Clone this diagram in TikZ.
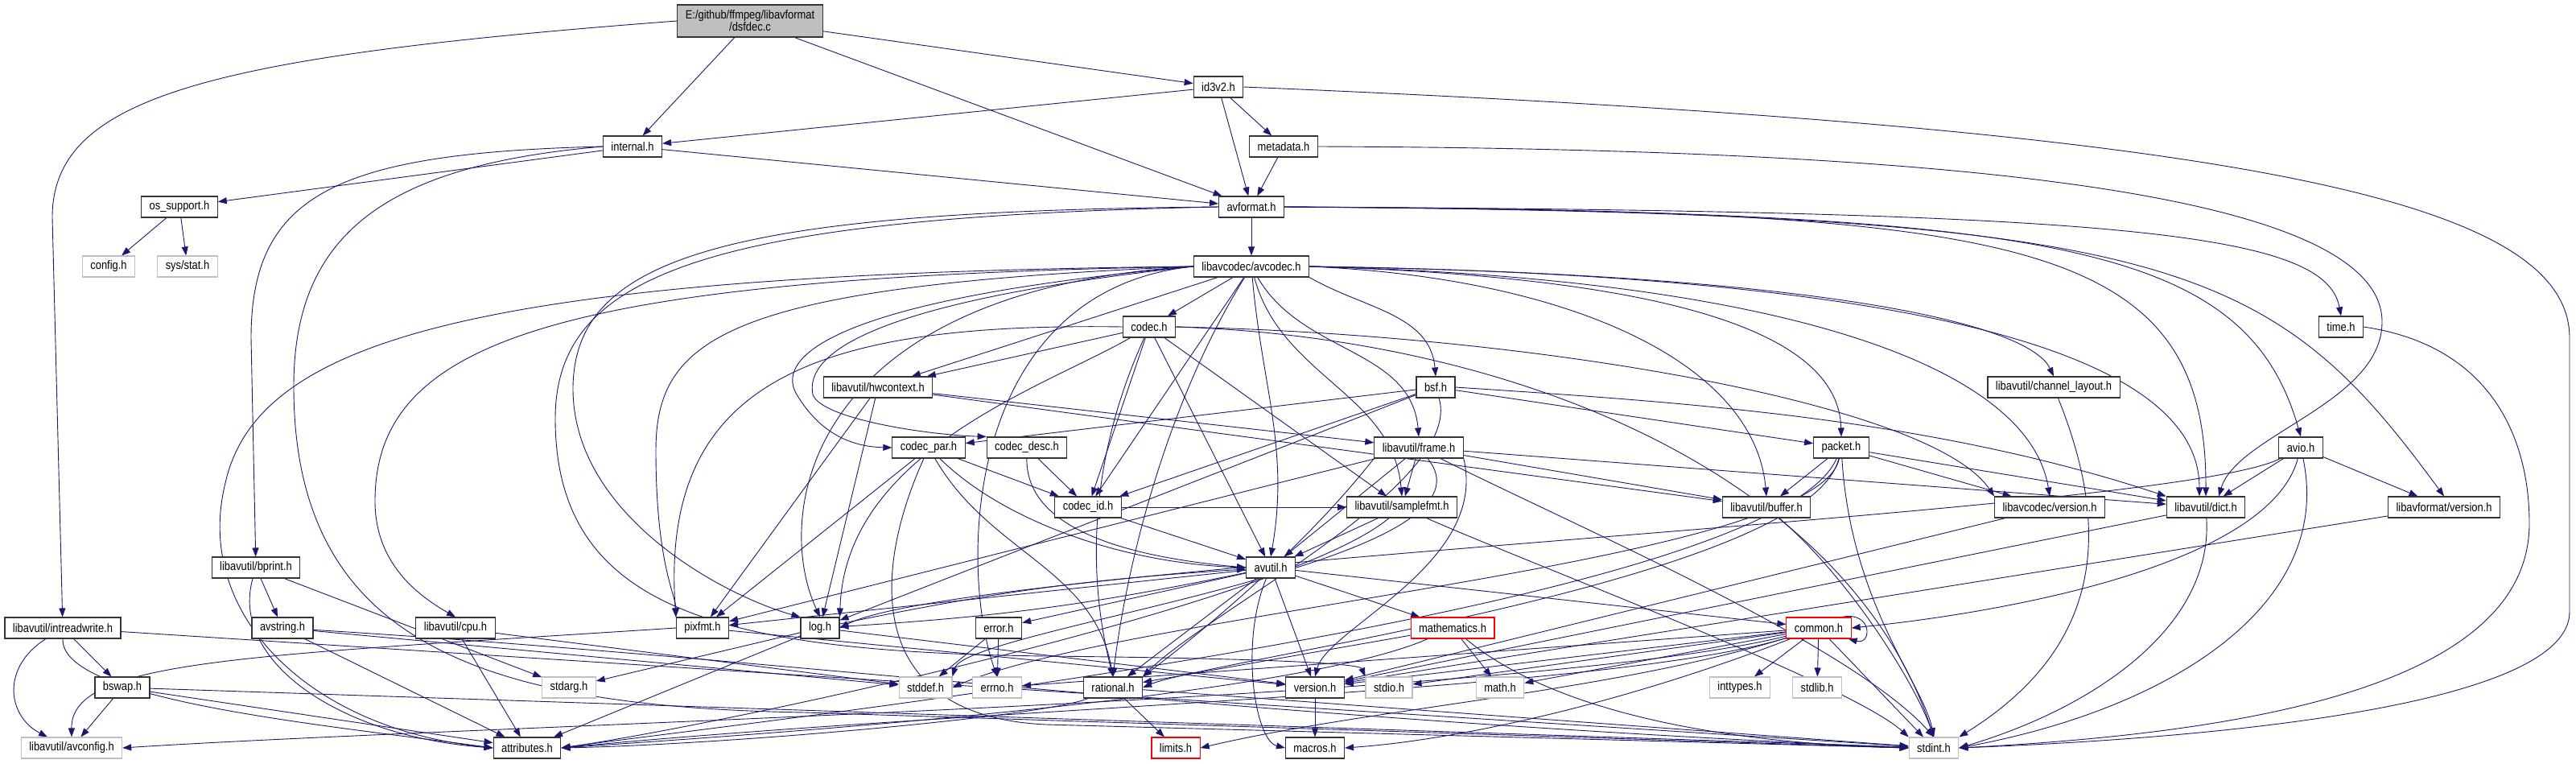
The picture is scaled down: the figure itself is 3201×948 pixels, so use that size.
\documentclass[tikz,border=0pt]{standalone}
\usepackage{fontspec}
\setmainfont{Liberation Sans}[FakeStretch=0.86]
\usetikzlibrary{arrows.meta}
\definecolor{edgeblue}{RGB}{25,25,112}
\definecolor{boxgray}{RGB}{191,191,191}
\pgfdeclarelayer{background}
\pgfsetlayers{background,main}

\begin{document}
\begin{tikzpicture}[
    x=1pt, y=1pt,
    hdr/.style={rectangle, draw=black!80, line width=1.1pt, fill=white, inner xsep=10pt, inner ysep=0pt, minimum height=26pt, font=\fontsize{15}{18}\selectfont},
    sysh/.style={hdr, draw=boxgray},
    trunc/.style={hdr, draw=red},
    srcfile/.style={hdr, fill=boxgray, minimum height=40pt, align=center, font=\fontsize{15}{15}\selectfont},
    dep/.style={draw=edgeblue, line width=0.9pt, -{Triangle[length=11pt,width=8pt]}}
]
\useasboundingbox (0,0) rectangle (3201,-948);

% ============== ROWS 1-4: SOURCE, ID3V2, INTERNAL, AVFORMAT ==============
\node[srcfile] (dsfdec) at (932,-26) {E:/github/ffmpeg/libavformat\\/dsfdec.c};
\node[hdr] (id3v2) at (1514,-108) {id3v2.h};
\node[hdr] (internal) at (786,-182) {internal.h};
\node[hdr] (metadata) at (1595,-182) {metadata.h};
\node[hdr] (ossupport) at (223,-257) {os\_support.h};
\node[hdr] (avformat) at (1555,-257) {avformat.h};

% ============== ROWS 5-8: AVCODEC AND ITS PARTS ==============
\node[sysh] (config) at (135,-331) {config.h};
\node[sysh] (sysstat) at (233,-331) {sys/stat.h};
\node[hdr] (avcodec) at (1555,-331) {libavcodec/avcodec.h};
\node[hdr] (codec) at (1428,-406) {codec.h};
\node[hdr] (timeh) at (2909,-406) {time.h};
\node[hdr] (hwcontext) at (1091,-481) {libavutil/hwcontext.h};
\node[hdr] (bsf) at (1784,-481) {bsf.h};
\node[hdr] (chlayout) at (2552,-481) {libavutil/channel\_layout.h};
\node[hdr] (codecpar) at (1154,-556) {codec\_par.h};
\node[hdr] (codecdesc) at (1276,-556) {codec\_desc.h};
\node[hdr] (frame) at (1763,-556) {libavutil/frame.h};
\node[hdr] (packet) at (2288,-556) {packet.h};
\node[hdr] (avio) at (2859,-556) {avio.h};

% ============== ROWS 9-10: UTIL HEADERS ==============
\node[hdr] (codecid) at (1352,-630) {codec\_id.h};
\node[hdr] (samplefmt) at (1742,-630) {libavutil/samplefmt.h};
\node[hdr] (buffer) at (2195,-630) {libavutil/buffer.h};
\node[hdr] (lavcversion) at (2547,-630) {libavcodec/version.h};
\node[hdr] (dict) at (2741,-630) {libavutil/dict.h};
\node[hdr] (lavfversion) at (3037,-630) {libavformat/version.h};
\node[hdr] (bprint) at (318,-705) {libavutil/bprint.h};
\node[hdr] (avutil) at (1579,-705) {avutil.h};

% ============== ROW 11: AVUTIL CHILDREN ==============
\node[hdr] (intread) at (78,-780) {libavutil/intreadwrite.h};
\node[hdr] (avstring) at (351,-780) {avstring.h};
\node[hdr] (cpu) at (566,-780) {libavutil/cpu.h};
\node[hdr] (pixfmt) at (873,-780) {pixfmt.h};
\node[hdr] (logh) at (1019,-780) {log.h};
\node[hdr] (error) at (1241,-780) {error.h};
\node[trunc] (mathematics) at (1805,-780) {mathematics.h};
\node[trunc] (common) at (2260,-780) {common.h};

% ============== ROWS 12-13: LEAVES ==============
\node[hdr] (bswap) at (152,-854) {bswap.h};
\node[sysh] (stdarg) at (707,-854) {stdarg.h};
\node[sysh] (stddef) at (1150,-854) {stddef.h};
\node[sysh] (errno) at (1239,-854) {errno.h};
\node[hdr] (rational) at (1383,-854) {rational.h};
\node[hdr] (version) at (1634,-854) {version.h};
\node[sysh] (stdio) at (1726,-854) {stdio.h};
\node[sysh] (math) at (1864,-854) {math.h};
\node[sysh] (inttypes) at (2162,-854) {inttypes.h};
\node[sysh] (stdlib) at (2258,-854) {stdlib.h};
\node[sysh] (avconfig) at (89,-929) {libavutil/avconfig.h};
\node[hdr] (attributes) at (655,-929) {attributes.h};
\node[trunc] (limits) at (1461,-929) {limits.h};
\node[hdr] (macros) at (1634,-929) {macros.h};
\node[sysh] (stdint) at (2403,-929) {stdint.h};

% ============== INCLUDES ==============
\begin{pgfonlayer}{background}
\fill[white] (0,0) rectangle (3201,-948);

% dsfdec.c
\draw[dep] (dsfdec.west) .. controls (260,-70) and (65,-120) .. (65,-270) -- (intread);
\draw[dep] (dsfdec) -- (internal);
\draw[dep] (dsfdec) -- (avformat);
\draw[dep] (dsfdec) -- (id3v2);

% id3v2.h
\draw[dep] (id3v2) -- (internal);
\draw[dep] (id3v2) -- (avformat);
\draw[dep] (id3v2) -- (metadata);
\draw[dep] (id3v2.east) .. controls (2800,-160) and (3193,-250) .. (3193,-420) -- (3193,-760) .. controls (3193,-870) and (2800,-915) .. (stdint.east);

% metadata.h
\draw[dep] (metadata) -- (avformat);
\draw[dep] (metadata.east) .. controls (2500,-185) and (2960,-250) .. (2960,-400) .. controls (2960,-500) and (2780,-540) .. ([xshift=16pt]dict.north);

% internal.h
\draw[dep] (internal) -- (ossupport);
\draw[dep] (internal) -- (avformat);
\draw[dep] (internal.west) .. controls (420,-190) and (312,-240) .. (312,-420) -- (bprint);
\draw[dep] (internal.west) .. controls (480,-205) and (365,-290) .. (365,-480) .. controls (365,-800) and (600,-878) .. (1000,-885) -- (stdint.west);

% os_support.h
\draw[dep] (ossupport) -- (config);
\draw[dep] (ossupport) -- (sysstat);

% avformat.h
\draw[dep] (avformat) -- (avcodec);
\draw[dep] (avformat.east) .. controls (2650,-262) and (2890,-290) .. (timeh.north);
\draw[dep] (avformat.east) .. controls (2500,-262) and (2742,-290) .. (dict.north);
\draw[dep] (avformat.east) .. controls (2550,-263) and (2790,-300) .. (avio.north);
\draw[dep] (avformat.east) .. controls (2700,-265) and (2820,-320) .. (lavfversion.north);
\draw[dep] (avformat.west) .. controls (900,-262) and (715,-320) .. (712,-480) .. controls (710,-640) and (900,-740) .. (logh.north west);
\draw[dep] (avformat.west) .. controls (880,-270) and (690,-340) .. (690,-520) .. controls (690,-760) and (900,-810) .. (1300,-815) .. controls (1600,-818) and (1690,-825) .. (stdio.north west);

% libavcodec/avcodec.h
\draw[dep] (avcodec) -- (codec);
\draw[dep] (avcodec) -- (codecid);
\draw[dep] (avcodec) -- (hwcontext);
\draw[dep] (avcodec.south east) to[out=-30,in=95] (bsf.north);
\draw[dep] (avcodec) to[out=-60,in=95] (frame.north);
\draw[dep] (avcodec) to[out=-75,in=95] (samplefmt.north);
\draw[dep] (avcodec) to[out=-85,in=80] (avutil.north);
\draw[dep] (avcodec.east) .. controls (1950,-345) and (2180,-450) .. (buffer.north);
\draw[dep] (avcodec.east) .. controls (2100,-345) and (2285,-420) .. (packet.north);
\draw[dep] (avcodec.east) .. controls (2250,-340) and (2520,-400) .. (chlayout.north);
\draw[dep] (avcodec.east) .. controls (2200,-345) and (2520,-450) .. (lavcversion.north);
\draw[dep] (avcodec.east) .. controls (2300,-340) and (2733,-420) .. ([xshift=-8pt]dict.north);
\draw[dep] (avcodec.west) .. controls (1050,-370) and (960,-440) .. (990,-490) .. controls (1020,-540) and (1060,-555) .. (codecpar.west);
\draw[dep] (avcodec.west) .. controls (1080,-375) and (1000,-440) .. (1010,-490) .. controls (1020,-520) and (1150,-540) .. (codecdesc.north west);
\draw[dep] (avcodec.west) .. controls (900,-355) and (815,-420) .. (815,-560) .. controls (815,-700) and (840,-740) .. (pixfmt.north west);
\draw[dep] (avcodec.west) .. controls (1000,-360) and (960,-640) .. (logh.north);
\draw[dep] (avcodec.west) .. controls (700,-345) and (468,-420) .. (466,-620) .. controls (465,-700) and (520,-740) .. (cpu.north);
\draw[dep] (avcodec.west) .. controls (600,-340) and (320,-420) .. (280,-600) .. controls (240,-760) and (380,-905) .. (attributes.west);
\draw[dep] (avcodec) .. controls (1450,-500) and (1400,-700) .. (rational.north);
\draw[dep] (avcodec.west) .. controls (1200,-360) and (1190,-700) .. (errno.north);

% codec.h
\draw[dep] (codec) -- (hwcontext);
\draw[dep] (codec) -- (codecid);
\draw[dep] (codec) -- (avutil);
\draw[dep] (codec) -- (samplefmt);
\draw[dep] (codec) .. controls (1300,-480) and (1050,-560) .. (logh.north east);
\draw[dep] (codec.west) .. controls (1000,-400) and (820,-480) .. (pixfmt.north west);
\draw[dep] (codec) .. controls (1340,-600) and (1360,-750) .. (rational.north);
\draw[dep] (codec.east) .. controls (1900,-420) and (2300,-600) .. (stdint.north);
\draw[dep] (codec.east) .. controls (1900,-415) and (2400,-500) .. (lavcversion.north west);

% libavutil/hwcontext.h
\draw[dep] (hwcontext) -- (buffer);
\draw[dep] (hwcontext) -- (frame);
\draw[dep] (hwcontext) -- (logh);
\draw[dep] (hwcontext) -- (pixfmt);

% codec_par.h, codec_desc.h, codec_id.h
\draw[dep] (codecpar) -- (codecid);
\draw[dep] (codecpar) -- (pixfmt);
\draw[dep] (codecpar) .. controls (1250,-650) and (1400,-700) .. (avutil.west);
\draw[dep] (codecpar) to[out=-60,in=100] (rational.north);
\draw[dep] (codecpar) .. controls (1080,-720) and (1080,-890) .. (1300,-900) -- (stdint.west);
\draw[dep] (codecdesc) -- (codecid);
\draw[dep] (codecdesc) .. controls (1275,-650) and (1380,-690) .. (avutil.west);
\draw[dep] (codecid) -- (avutil);
\draw[dep] (codecid) -- (samplefmt);

% bsf.h
\draw[dep] (bsf) -- (codecid);
\draw[dep] (bsf) -- (codecpar);
\draw[dep] (bsf) -- (packet);
\draw[dep] (bsf.east) .. controls (2100,-500) and (2400,-520) .. (dict.north west);
\draw[dep] (bsf) -- (logh);
\draw[dep] (bsf) .. controls (1820,-600) and (1500,-760) .. (rational.north east);

% libavutil/frame.h
\draw[dep] (frame) -- (samplefmt);
\draw[dep] (frame) -- (buffer);
\draw[dep] (frame) -- (avutil);
\draw[dep] (frame) -- (dict);
\draw[dep] (frame) -- (pixfmt);
\draw[dep] (frame.south west) .. controls (1620,-680) and (1500,-780) .. (rational.north east);
\draw[dep] (frame.south east) .. controls (1850,-700) and (1650,-780) .. (version.north);
\draw[dep] (frame) .. controls (1880,-700) and (1200,-780) .. (stddef.north east);
\draw[dep] (frame) .. controls (1950,-650) and (2300,-800) .. (stdint.north);

% packet.h
\draw[dep] (packet) -- (buffer);
\draw[dep] (packet) -- (dict);
\draw[dep] (packet) -- (lavcversion);
\draw[dep] (packet) .. controls (2300,-750) and (2390,-850) .. (stdint.north);
\draw[dep] (packet) .. controls (2260,-700) and (1400,-760) .. (stddef.east);
\draw[dep] (packet) .. controls (2250,-720) and (1500,-820) .. (rational.east);
\draw[dep] (packet) .. controls (2200,-760) and (900,-900) .. (attributes.east);

% channel_layout.h, version.h, dict.h
\draw[dep] (chlayout) .. controls (2620,-650) and (2620,-800) .. (stdint.north east);
\draw[dep] (lavcversion) -- (version);
\draw[dep] (dict) -- (version);
\draw[dep] (dict) .. controls (2750,-780) and (2600,-880) .. (stdint.east);
\draw[dep] (lavfversion) -- (version);

% avio.h
\draw[dep] (avio) -- (dict);
\draw[dep] (avio) -- (lavfversion);
\draw[dep] (avio) .. controls (2820,-700) and (2500,-760) .. (common.east);
\draw[dep] (avio) .. controls (2900,-750) and (2700,-880) .. (stdint.east);
\draw[dep] (avio) .. controls (2700,-640) and (1200,-700) .. (logh.east);

% time.h
\draw[dep] (timeh.east) .. controls (3100,-430) and (3143,-550) .. (3143,-650) .. controls (3143,-850) and (2800,-910) .. (stdint.east);

% libavutil/samplefmt.h, libavutil/buffer.h
\draw[dep] (samplefmt) -- (avutil);
\draw[dep] (samplefmt) .. controls (1900,-700) and (2300,-850) .. (stdint.north west);
\draw[dep] (samplefmt) .. controls (1600,-750) and (900,-900) .. (attributes.east);
\draw[dep] (buffer) .. controls (2300,-720) and (2380,-850) .. (stdint.north);

% avutil.h
\draw[dep] (avutil) -- (common);
\draw[dep] (avutil) -- (error);
\draw[dep] (avutil) -- (rational);
\draw[dep] (avutil) -- (mathematics);
\draw[dep] (avutil) to[bend left=4] (logh);
\draw[dep] (avutil) -- (pixfmt);
\draw[dep] (avutil) -- (version);
\draw[dep] (avutil) .. controls (1540,-800) and (1560,-920) .. (macros.west);

% common.h
\draw[dep] (common) -- (inttypes);
\draw[dep] (common) -- (stdlib);
\draw[dep] (common) -- (stdint);
\draw[dep] (common) -- (math);
\draw[dep] (common) -- (stdio);
\draw[dep] (common) -- (version);
\draw[dep] (common) -- (errno);
\draw[dep] (common) .. controls (2000,-860) and (1700,-880) .. (limits.east);
\draw[dep] (common) .. controls (2000,-880) and (1800,-920) .. (macros.east);
\draw[dep] (common) .. controls (2000,-860) and (1200,-880) .. (attributes.east);
\draw[dep] (common) .. controls (1900,-870) and (600,-900) .. (avconfig.east);
\draw[dep] ([xshift=-12pt]common.north east) .. controls ([xshift=26pt,yshift=8pt]common.north east) and ([xshift=26pt,yshift=-8pt]common.south east) .. ([xshift=-4pt]common.south east);

% error.h, rational.h, version.h, mathematics.h
\draw[dep] (error) -- (errno);
\draw[dep] (error) -- (stddef);
\draw[dep] (rational) -- (limits);
\draw[dep] (rational) .. controls (1300,-890) and (900,-925) .. (attributes.east);
\draw[dep] (rational) -- (stdint);
\draw[dep] (version) -- (macros);
\draw[dep] (mathematics) -- (math);
\draw[dep] (mathematics) -- (rational);
\draw[dep] (mathematics) .. controls (1950,-900) and (2200,-925) .. (stdint.west);
\draw[dep] (mathematics) .. controls (1600,-870) and (900,-915) .. (attributes.east);

% log.h, pixfmt.h, cpu.h
\draw[dep] (logh) to[bend left=4] (avutil);
\draw[dep] (logh) -- (stdarg);
\draw[dep] (logh) -- (attributes);
\draw[dep] (logh) -- (version);
\draw[dep] (pixfmt) -- (version);
\draw[dep] (pixfmt.west) .. controls (300,-815) and (88,-820) .. (avconfig.north);
\draw[dep] (cpu) -- (attributes);
\draw[dep] (cpu) -- (stddef);

% bprint.h, avstring.h
\draw[dep] (bprint) -- (avstring);
\draw[dep] (bprint) -- (stdarg);
\draw[dep] (bprint) .. controls (285,-820) and (420,-915) .. (attributes.west);
\draw[dep] (avstring) -- (attributes);
\draw[dep] (avstring) -- (stddef);
\draw[dep] (avstring) .. controls (1000,-820) and (1500,-890) .. (stdint.west);

% intreadwrite.h, bswap.h
\draw[dep] (intread) -- (bswap);
\draw[dep] (intread) .. controls (0,-830) and (10,-890) .. ([xshift=-30pt]avconfig.north);
\draw[dep] (intread.south) .. controls (75,-870) and (400,-900) .. (attributes.west);
\draw[dep] (intread) -- (stdint);
\draw[dep] (bswap) -- (avconfig);
\draw[dep] (bswap) -- (attributes);
\draw[dep] (bswap) -- (stdint);
\end{pgfonlayer}

\end{tikzpicture}
\end{document}
